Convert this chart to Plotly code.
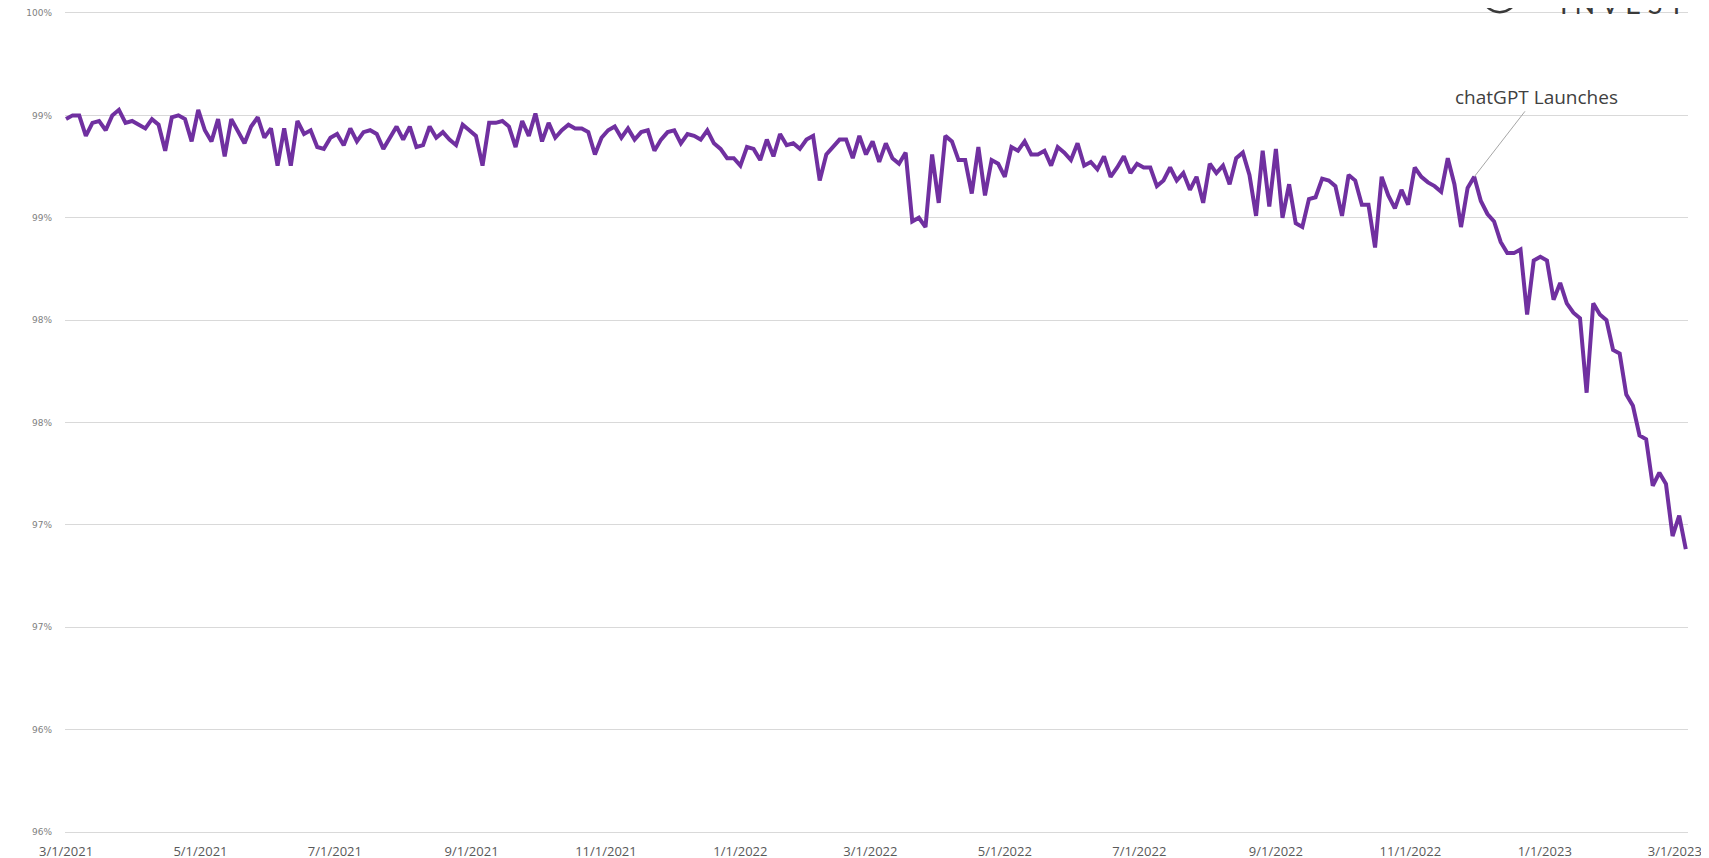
import pandas as pd
import plotly.graph_objects as go

# daily share line, every 3rd day (percent)
START_DATE = "2021-03-01"
STEP = "3D"
share_pct = [
    99.43, 99.45, 99.45, 99.34, 99.41, 99.42, 99.37, 99.45, 99.48, 99.41,
    99.42, 99.40, 99.38, 99.43, 99.40, 99.26, 99.44, 99.45, 99.43, 99.31,
    99.48, 99.37, 99.31, 99.43, 99.23, 99.43, 99.37, 99.30, 99.39, 99.44,
    99.33, 99.38, 99.18, 99.38, 99.18, 99.42, 99.35, 99.37, 99.28, 99.27,
    99.33, 99.35, 99.29, 99.38, 99.31, 99.36, 99.37, 99.35, 99.27, 99.33,
    99.39, 99.32, 99.39, 99.28, 99.29, 99.39, 99.33, 99.36, 99.32, 99.29,
    99.40, 99.37, 99.34, 99.18, 99.41, 99.41, 99.42, 99.39, 99.28, 99.42,
    99.34, 99.46, 99.31, 99.41, 99.33, 99.37, 99.40, 99.38, 99.38, 99.36,
    99.24, 99.33, 99.37, 99.39, 99.33, 99.38, 99.32, 99.36, 99.37, 99.26,
    99.32, 99.36, 99.37, 99.30, 99.35, 99.34, 99.32, 99.37, 99.30, 99.27,
    99.22, 99.22, 99.18, 99.28, 99.27, 99.21, 99.32, 99.23, 99.35, 99.29,
    99.30, 99.27, 99.32, 99.34, 99.10, 99.24, 99.28, 99.32, 99.32, 99.22,
    99.34, 99.24, 99.31, 99.20, 99.30, 99.22, 99.19, 99.25, 98.88, 98.90,
    98.85, 99.24, 98.98, 99.34, 99.31, 99.21, 99.21, 99.03, 99.28, 99.02,
    99.21, 99.19, 99.12, 99.28, 99.26, 99.31, 99.24, 99.24, 99.26, 99.18,
    99.28, 99.25, 99.21, 99.30, 99.18, 99.20, 99.16, 99.23, 99.12, 99.17,
    99.23, 99.14, 99.19, 99.17, 99.17, 99.07, 99.10, 99.17, 99.10, 99.14,
    99.05, 99.12, 98.98, 99.19, 99.14, 99.18, 99.08, 99.22, 99.25, 99.13,
    98.91, 99.26, 98.96, 99.27, 98.90, 99.08, 98.87, 98.85, 99.00, 99.01,
    99.11, 99.10, 99.07, 98.91, 99.13, 99.10, 98.97, 98.97, 98.74, 99.12,
    99.02, 98.95, 99.05, 98.97, 99.17, 99.12, 99.09, 99.07, 99.04, 99.22,
    99.08, 98.85, 99.06, 99.12, 98.99, 98.92, 98.88, 98.77, 98.71, 98.71,
    98.73, 98.38, 98.67, 98.69, 98.67, 98.46, 98.55, 98.44, 98.39, 98.36,
    97.96, 98.44, 98.38, 98.35, 98.19, 98.17, 97.95, 97.89, 97.73, 97.71,
    97.46, 97.53, 97.47, 97.19, 97.30, 97.12,
]

tick_dates = [
    "2021-03-01", "2021-05-01", "2021-07-01", "2021-09-01", "2021-11-01",
    "2022-01-01", "2022-03-01", "2022-05-01", "2022-07-01", "2022-09-01",
    "2022-11-01", "2023-01-01", "2023-03-01",
]
tick_text = [
    "3/1/2021", "5/1/2021", "7/1/2021", "9/1/2021", "11/1/2021",
    "1/1/2022", "3/1/2022", "5/1/2022", "7/1/2022", "9/1/2022",
    "11/1/2022", "1/1/2023", "3/1/2023",
]
y_ticks = [0.956, 0.9615, 0.967, 0.9725, 0.978, 0.9835, 0.989, 0.9945, 1.0]

launch_date = "2022-11-30"
launch_label = "chatGPT Launches"

COLORS = {
    "line": "#7030A0",
    "grid": "#d9d9d9",
    "tick_y": "#808080",
    "tick_x": "#595959",
    "note": "#404040",
    "note_line": "#a6a6a6",
    "logo": "#3a3a3a",
}

dates = pd.date_range(START_DATE, periods=len(share_pct), freq=STEP)
share = pd.Series(share_pct, index=dates) / 100

fig = go.Figure()
fig.add_trace(go.Scatter(
    x=share.index,
    y=share.values,
    mode="lines",
    line=dict(color=COLORS["line"], width=4),
    hoverinfo="x+y",
))

# point on the line closest to the launch date, for the callout
launch_idx = share.index.get_indexer([pd.Timestamp(launch_date)], method="nearest")[0]
fig.add_annotation(
    x=share.index[launch_idx],
    y=share.iloc[launch_idx],
    text=launch_label,
    showarrow=True,
    arrowhead=0,
    arrowwidth=1,
    arrowcolor=COLORS["note_line"],
    ax=62,
    ay=-80,
    font=dict(family="Open Sans", size=19, color=COLORS["note"]),
)

# logo, cut off at the top edge like the original
fig.add_annotation(
    xref="paper", yref="paper",
    x=0.999, y=1,
    xanchor="right", yanchor="bottom",
    yshift=-9,
    text="I N V E S T",
    showarrow=False,
    font=dict(family="Lato", size=27, color=COLORS["logo"]),
)
fig.add_shape(
    type="circle",
    xref="paper", yref="paper",
    x0=0.873, x1=0.895, y0=1.001, y1=1.046,
    line=dict(color=COLORS["logo"], width=2.5),
)

# the html page has an 8px body margin, margins below are shifted to make up for it
fig.update_layout(
    width=1709,
    height=858,
    margin=dict(l=57, r=29, t=5, b=34),
    plot_bgcolor="white",
    paper_bgcolor="white",
    showlegend=False,
    xaxis=dict(
        type="date",
        range=["2021-02-28 13:00", "2023-03-07"],
        tickvals=tick_dates,
        ticktext=tick_text,
        showgrid=False,
        zeroline=False,
        showline=True,
        mirror=True,
        linecolor=COLORS["grid"],
        linewidth=1,
        ticks="",
        ticklabelstandoff=7,
        automargin=False,
        tickfont=dict(family="Open Sans", size=13, color=COLORS["tick_x"]),
    ),
    yaxis=dict(
        range=[0.956, 1.0],
        tickvals=y_ticks,
        tickformat=".0%",
        showgrid=True,
        gridcolor=COLORS["grid"],
        gridwidth=1,
        zeroline=False,
        showline=False,
        ticks="",
        ticklabelstandoff=12,
        automargin=False,
        tickfont=dict(family="DejaVu Sans", size=9, color=COLORS["tick_y"]),
    ),
)

fig.write_html("out.html")
